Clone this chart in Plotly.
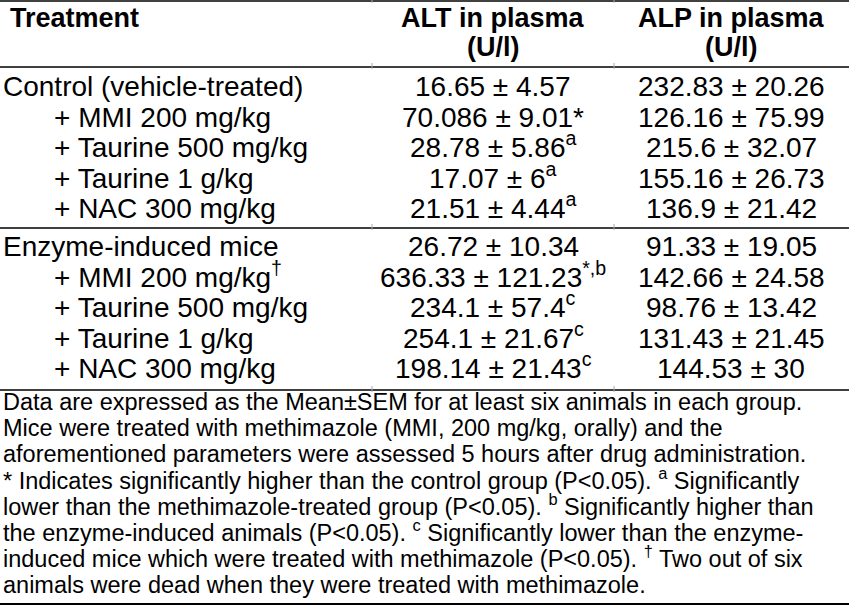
import plotly.graph_objs as go

# table contents
treatments = ["Control (vehicle-treated)", "+ MMI 200 mg/kg", "+ Taurine 500 mg/kg",
              "+ Taurine 1 g/kg", "+ NAC 300 mg/kg",
              "Enzyme-induced mice", "+ MMI 200 mg/kg", "+ Taurine 500 mg/kg",
              "+ Taurine 1 g/kg", "+ NAC 300 mg/kg"]
treatment_marks = ["", "", "", "", "", "", "†", "", "", ""]
alt_mean = ["16.65", "70.086", "28.78", "17.07", "21.51",
            "26.72", "636.33", "234.1", "254.1", "198.14"]
alt_sem = ["4.57", "9.01", "5.86", "6", "4.44",
           "10.34", "121.23", "57.4", "21.67", "21.43"]
alt_marks = ["", "*", "a", "a", "a", "", "*,b", "c", "c", "c"]
alp_mean = ["232.83", "126.16", "215.6", "155.16", "136.9",
            "91.33", "142.66", "98.76", "131.43", "144.53"]
alp_sem = ["20.26", "75.99", "32.07", "26.73", "21.42",
           "19.05", "24.58", "13.42", "21.45", "30"]

headers = ["Treatment", "ALT in plasma<br>(U/l)", "ALP in plasma<br>(U/l)"]

footnotes = [
    "Data are expressed as the Mean±SEM for at least six animals in each group.",
    "Mice were treated with methimazole (MMI, 200 mg/kg, orally) and the",
    "aforementioned parameters were assessed 5 hours after drug administration.",
    "* Indicates significantly higher than the control group (P<0.05). <sup>a</sup> Significantly",
    "lower than the methimazole-treated group (P<0.05). <sup>b</sup> Significantly higher than",
    "the enzyme-induced animals (P<0.05). <sup>c</sup> Significantly lower than the enzyme-",
    "induced mice which were treated with methimazole (P<0.05). <sup>†</sup> Two out of six",
    "animals were dead when they were treated with methimazole.",
]

FONT = "Liberation Sans, Arial, sans-serif"
W, H = 849, 607


def mark(m):
    if m == "":
        return ""
    if m == "*":
        return "*"
    return "<sup>" + m + "</sup>"


anns = []

# header
col_x = [8, 493, 731]
hf = dict(size=27, color="black", family=FONT)
anns.append(dict(x=col_x[0], y=18, text="<b>Treatment</b>", xanchor="left", font=hf))
for cx, h in zip(col_x[1:], headers[1:]):
    top, bottom = h.split("<br>")
    anns.append(dict(x=cx, y=18, text="<b>" + top + "</b>", xanchor="center", font=hf))
    anns.append(dict(x=cx, y=47, text="<b>" + bottom + "</b>", xanchor="center", font=hf))
for a in anns:
    a.update(yanchor="middle")

# data rows (bottom-anchored so superscripts don't push the baseline)
f = dict(size=28, color="black", family=FONT)
for i, t in enumerate(treatments):
    grp, k = divmod(i, 5)
    y = (85 if grp == 0 else 245) + k * 30.6 + 19
    indent = 1 if k == 0 else 52
    anns.append(dict(x=indent, y=y, text=t + mark(treatment_marks[i]),
                     xanchor="left", yanchor="bottom", font=f))
    anns.append(dict(x=col_x[1], y=y,
                     text=alt_mean[i] + " ± " + alt_sem[i] + mark(alt_marks[i]),
                     xanchor="center", yanchor="bottom", font=f))
    anns.append(dict(x=col_x[2], y=y, text=alp_mean[i] + " ± " + alp_sem[i],
                     xanchor="center", yanchor="bottom", font=f))

# footnotes
for j, line in enumerate(footnotes):
    anns.append(dict(x=1, y=401 + j * 26.2 + 16, text=line,
                     xanchor="left", yanchor="bottom",
                     font=dict(size=23.5, color="black", family=FONT)))

for a in anns:
    a.update(xref="x", yref="y", showarrow=False)

# horizontal rules
rules = [1, 67, 228, 390, 604]
shapes = []
for r in rules:
    shapes.append(dict(type="line", xref="x", yref="y", x0=0, x1=W, y0=r, y1=r,
                       line=dict(color="black", width=2 if r == rules[-1] else 1.5)))
# faint column boundary ticks
for r in rules[:-1]:
    for bx in [372, 614]:
        shapes.append(dict(type="line", xref="x", yref="y", x0=bx, x1=bx,
                           y0=r - 4, y1=r + 2, line=dict(color="#aaaaaa", width=1)))

fig = go.Figure()
fig.update_layout(
    width=W, height=H,
    margin=dict(l=0, r=0, t=0, b=0),
    paper_bgcolor="white", plot_bgcolor="white",
    xaxis=dict(range=[0, W], visible=False, fixedrange=True),
    yaxis=dict(range=[H, 0], visible=False, fixedrange=True),
    annotations=anns, shapes=shapes, showlegend=False,
)

# drop the default page margin so the figure sits at the window's corner
fig.write_html("out.html", config={"displayModeBar": False},
               post_script="document.body.style.margin='0';")
